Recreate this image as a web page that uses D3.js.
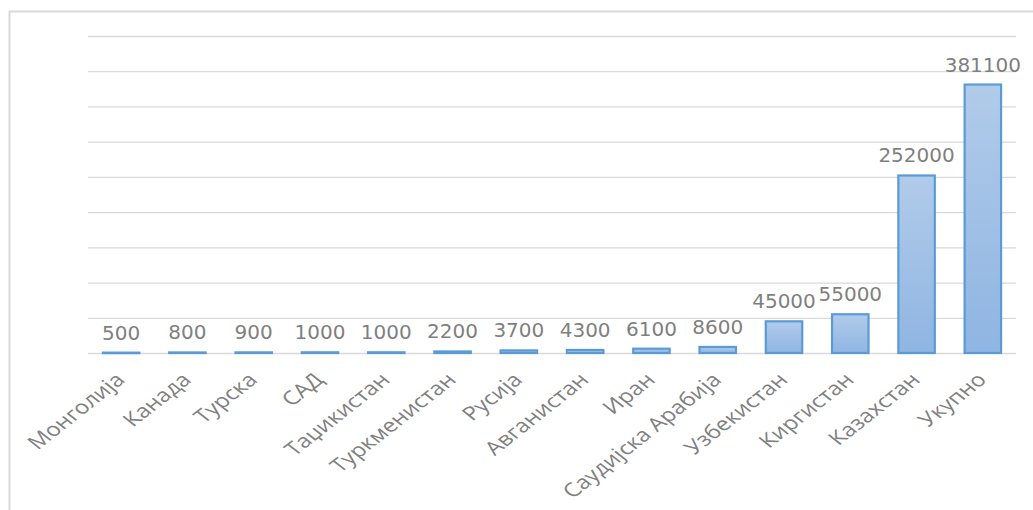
<!DOCTYPE html>
<html>
<head>
  <meta charset="UTF-8">
  <style>
    body { margin: 0; background: #fff; }
    svg { display: block; }
  </style>
</head>
<body>
  <svg></svg>
<script src="https://d3js.org/d3.v7.min.js"></script>
<script>

    let width = 1033;
    let height = 510;

    // data
    let categories = ["Монголија", "Канада", "Турска", "САД", "Таџикистан", "Туркменистан",
                      "Русија", "Авганистан", "Иран", "Саудијска Арабија", "Узбекистан",
                      "Киргистан", "Казахстан", "Укупно"];
    let values = [500, 800, 900, 1000, 1000, 2200, 3700, 4300, 6100, 8600, 45000, 55000, 252000, 381100];
    let yTicks = [0, 50000, 100000, 150000, 200000, 250000, 300000, 350000, 400000, 450000];

    let data = categories.map((c, i) => ({ name: c, value: values[i] }));

    let margin = { top: 36, left: 88, right: 17, bottom: 157 };

    let svg = d3.select("svg")
        .attr("width", width)
        .attr("height", height);

    // chart frame (runs off the right and bottom edge)
    svg.append("rect")
        .attr("x", 9.5).attr("y", 11.5)
        .attr("width", 1100).attr("height", 600)
        .attr("fill", "none")
        .attr("stroke", "#d9d9d9")
        .attr("stroke-width", 2);

    let x = d3.scaleBand()
        .domain(categories)
        .range([margin.left, width - margin.right])
        .paddingInner(0.45)
        .paddingOuter(0.225);

    let y = d3.scaleLinear()
        .domain([0, 450000])
        .range([height - margin.bottom, margin.top]);

    let defs = svg.append("defs");
    let grad = defs.append("linearGradient")
        .attr("id", "barfill")
        .attr("x1", 0).attr("y1", 0).attr("x2", 0).attr("y2", 1);
    grad.append("stop").attr("offset", "0%").attr("stop-color", "#b1cbea");
    grad.append("stop").attr("offset", "100%").attr("stop-color", "#8fb5e2");

    // gridlines
    let grid = svg.append("g")
        .attr("transform", "translate(" + margin.left + ",0)")
        .call(d3.axisLeft(y).tickValues(yTicks).tickSize(-(width - margin.right - margin.left)).tickFormat(""));
    grid.select(".domain").remove();
    grid.selectAll("line").attr("stroke", "#d9d9d9").attr("stroke-width", 1.3);

    // bars
    svg.append("g")
      .selectAll("rect")
      .data(data)
      .enter()
      .append("rect")
        .attr("x", d => x(d.name))
        .attr("y", d => y(d.value))
        .attr("width", x.bandwidth())
        .attr("height", d => Math.max(y(0) - y(d.value), 0.5))
        .attr("fill", "url(#barfill)")
        .attr("stroke", "#5b9bd5")
        .attr("stroke-width", 2.2);

    // value labels
    svg.append("g")
      .selectAll("text")
      .data(data)
      .enter()
      .append("text")
        .attr("x", d => x(d.name) + x.bandwidth() / 2)
        .attr("y", d => y(d.value) - 13)
        .attr("text-anchor", "middle")
        .style("font-family", "DejaVu Sans")
        .style("font-size", "20px")
        .style("fill", "#7f7f7f")
        .text(d => d.value);

    // category labels (slanted, slightly stretched like the original)
    let xAxis = svg.append("g")
        .attr("transform", "translate(0," + y(0) + ")")
        .call(d3.axisBottom(x).tickSize(0).tickPadding(0));
    xAxis.select(".domain").remove();
    xAxis.selectAll("text")
        .attr("x", 0).attr("y", 0).attr("dy", 0)
        .attr("text-anchor", "end")
        .attr("transform", "translate(5,28) scale(1.27,1) rotate(-45)")
        .style("font-family", "Open Sans")
        .style("font-size", "19px")
        .style("fill", "#808080");

</script>
</body>
</html>
